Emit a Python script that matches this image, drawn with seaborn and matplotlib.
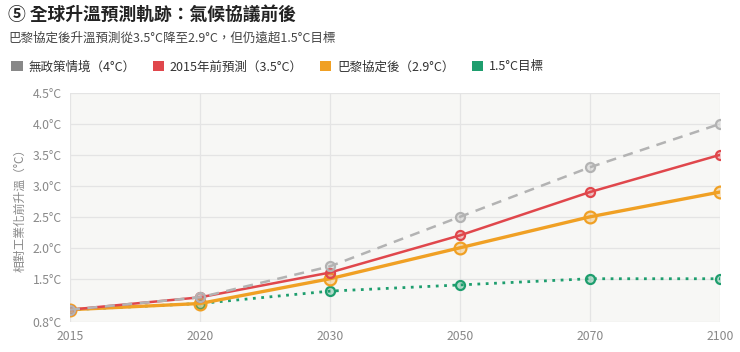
import matplotlib
matplotlib.use("Agg")
import matplotlib.pyplot as plt
from matplotlib.patches import Patch
from matplotlib.colors import to_rgba
import seaborn as sns
import pandas as pd

# chart data
years = ["2015", "2020", "2030", "2050", "2070", "2100"]
no_policy = [1.0, 1.2, 1.7, 2.5, 3.3, 4.0]
pre_2015 = [1.0, 1.2, 1.6, 2.2, 2.9, 3.5]
post_paris = [1.0, 1.1, 1.5, 2.0, 2.5, 2.9]
target_15 = [1.0, 1.1, 1.3, 1.4, 1.5, 1.5]
series_names = ["無政策情境（4°C）", "2015年前預測（3.5°C）", "巴黎協定後（2.9°C）", "1.5°C目標"]
y_ticks = [0.8, 1.5, 2.0, 2.5, 3.0, 3.5, 4.0, 4.5]

sns.set_theme(style="white")
plt.rcParams["font.family"] = ["Noto Sans CJK TC", "DejaVu Sans"]

fig = plt.figure(figsize=(7.4, 3.52), dpi=100)
ax = fig.add_axes([0.0946, 0.085, 0.973 - 0.0946, 0.736 - 0.085])
ax.set_facecolor("#f7f7f5")

styles = [
    # color, linestyle, width, marker size, zorder
    ("#b3b3b3", (0, (4, 3)), 1.8, 6.5, 6),
    ("#e0474c", "-", 1.8, 6.5, 5),
    ("#f0a024", "-", 2.4, 8.5, 4),
    ("#1e9e6e", (0, (1, 2)), 2.0, 6.5, 3),
]
all_series = [no_policy, pre_2015, post_paris, target_15]

x_pos = list(range(len(years)))
for name, vals, (col, ls, lw, ms, z) in zip(series_names, all_series, styles):
    df = pd.DataFrame({"x": x_pos, "y": vals})
    sns.lineplot(data=df, x="x", y="y", ax=ax, color=col, linestyle=ls,
                 linewidth=lw, marker="o", markersize=ms,
                 markerfacecolor=to_rgba(col, 0.3), markeredgecolor=col,
                 markeredgewidth=1.6, zorder=z, legend=False)

ax.set_xlim(0, len(years) - 1)
ax.set_ylim(0.8, 4.5)
ax.set_xticks(x_pos)
ax.set_xticklabels(years)
ax.set_yticks(y_ticks)
ax.set_yticklabels([f"{v:.1f}°C" for v in y_ticks])
ax.grid(True, color="#e4e4e4", linewidth=0.9)
ax.set_axisbelow(True)
for s in ax.spines.values():
    s.set_visible(False)
ax.tick_params(axis="both", length=0, labelsize=8.8, labelcolor="#888888", pad=6)
ax.set_xlabel("")
ax.set_ylabel("相對工業化前升溫（°C）", fontsize=8.5, color="#888888", labelpad=4)

fig.text(0.011, 0.958, "⑤ 全球升溫預測軌跡：氣候協議前後", fontsize=12.8,
         fontweight="bold", color="#222222", va="center", ha="left")
fig.text(0.011, 0.892, "巴黎協定後升溫預測從3.5°C降至2.9°C，但仍遠超1.5°C目標",
         fontsize=9, color="#444444", va="center", ha="left")

handles = [Patch(facecolor=c[0] if i else "#888888", edgecolor="none")
           for i, c in enumerate(styles)]
fig.legend(handles, series_names, loc="center left", bbox_to_anchor=(0.0, 0.81),
           ncols=4, frameon=False, fontsize=9, handlelength=0.9, handleheight=0.9,
           handletextpad=0.45, columnspacing=1.4, labelcolor="#333333")

fig.savefig("out.png", dpi=100)
